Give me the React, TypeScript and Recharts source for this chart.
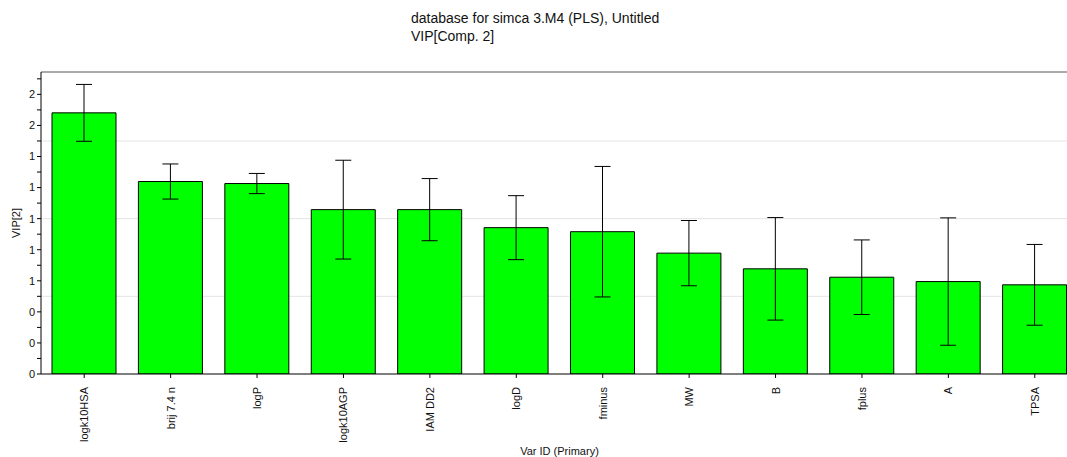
import React from 'react';
import {
    BarChart,
    Bar,
    XAxis,
    YAxis,
    CartesianGrid,
    ErrorBar,
    ReferenceLine,
} from 'recharts';

// VIP values for component 2 with jackknife confidence half-widths
const variables = [
    'logk10HSA',
    'brij 7.4 n',
    'logP',
    'logk10AGP',
    'IAM DD2',
    'logD',
    'fminus',
    'MW',
    'B',
    'fplus',
    'A',
    'TPSA',
];
const vipValues = [1.681, 1.239, 1.226, 1.058, 1.058, 0.942, 0.916, 0.778, 0.677, 0.623, 0.595, 0.574];
const vipCI = [0.183, 0.113, 0.065, 0.318, 0.2, 0.206, 0.42, 0.21, 0.33, 0.24, 0.41, 0.26];

const yTicks = [0, 0.1, 0.2, 0.3, 0.4, 0.5, 0.6, 0.7, 0.8, 0.9, 1, 1.1, 1.2, 1.3, 1.4, 1.5, 1.6, 1.7, 1.8, 1.9];
const yTickLabels = ['0', '', '0', '', '0', '', '1', '', '1', '', '1', '', '1', '', '1', '', '2', '', '2', ''];
const gridValues = [0.5, 1, 1.5];
const yMax = 1.944;

const titleLines = ['database for simca 3.M4 (PLS), Untitled', 'VIP[Comp. 2]'];

const data = variables.map((name, i) => ({
    name,
    vip: vipValues[i],
    ci: vipCI[i],
}));

const FONT = '"Liberation Sans", Arial, sans-serif';

function VarTick(props: any) {
    const { x, y, payload } = props;
    return (
        <text
            x={x}
            y={y + 7}
            transform={`rotate(-90, ${x}, ${y + 7})`}
            textAnchor="end"
            dominantBaseline="central"
            fontSize={11}
            fontFamily={FONT}
            fill="#111"
        >
            {payload.value}
        </text>
    );
}

function YLabel(props: any) {
    const { viewBox } = props;
    const cy = viewBox.y + viewBox.height / 2;
    return (
        <text
            x={16}
            y={cy}
            transform={`rotate(-90, 16, ${cy})`}
            textAnchor="middle"
            dominantBaseline="central"
            fontSize={11}
            fontFamily={FONT}
            fill="#111"
        >
            VIP[2]
        </text>
    );
}

function App() {
    return (
        <div
            style={{
                position: 'fixed',
                left: 0,
                top: 0,
                width: 1067,
                height: 457,
                overflow: 'hidden',
                background: '#fff',
            }}
        >
            <div
                style={{
                    position: 'absolute',
                    left: 411,
                    top: 9,
                    fontFamily: FONT,
                    fontSize: 14,
                    lineHeight: '18px',
                    color: '#111',
                    whiteSpace: 'nowrap',
                }}
            >
                {titleLines.map((line) => (
                    <div key={line}>{line}</div>
                ))}
            </div>
            <BarChart
                width={1080}
                height={457}
                data={data}
                margin={{ top: 72, right: 2, left: 0, bottom: 0 }}
                barSize={64}
            >
                <CartesianGrid
                    vertical={false}
                    horizontalValues={gridValues}
                    stroke="#e4e4e4"
                />
                <XAxis
                    dataKey="name"
                    height={83}
                    interval={0}
                    tickSize={4}
                    tick={<VarTick />}
                    stroke="#000"
                    label={{
                        value: 'Var ID (Primary)',
                        position: 'insideBottom',
                        offset: 2,
                        fontSize: 11,
                        fontFamily: FONT,
                        fill: '#111',
                    }}
                />
                <YAxis
                    width={41}
                    domain={[0, yMax]}
                    allowDataOverflow
                    ticks={yTicks}
                    interval={0}
                    tickSize={4}
                    tickFormatter={(_v: number, i: number) => yTickLabels[i]}
                    tick={{ fontSize: 11, fontFamily: FONT, fill: '#111' }}
                    stroke="#000"
                    label={<YLabel />}
                />
                <ReferenceLine y={yMax} stroke="#555" />
                <Bar
                    dataKey="vip"
                    fill="#00ff00"
                    stroke="#000"
                    strokeWidth={1}
                    isAnimationActive={false}
                >
                    <ErrorBar
                        dataKey="ci"
                        width={8}
                        stroke="#000"
                        strokeWidth={1}
                        isAnimationActive={false}
                    />
                </Bar>
            </BarChart>
        </div>
    );
}

export default App;
